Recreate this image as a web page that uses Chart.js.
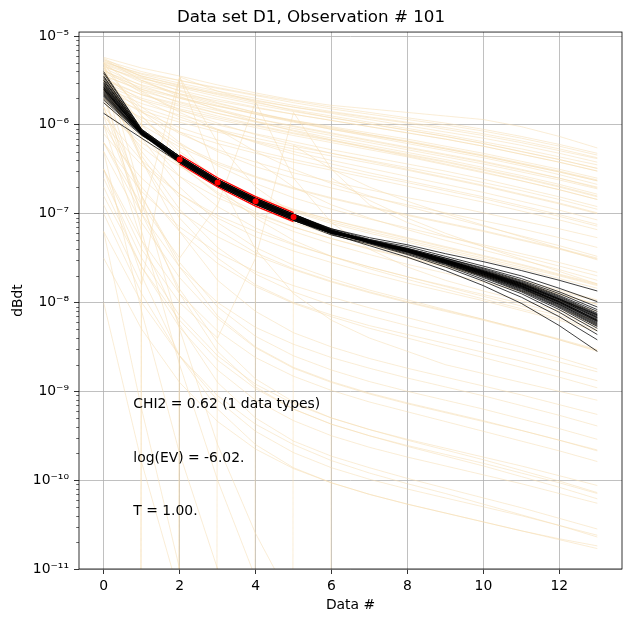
<!DOCTYPE html>
<html>
<head>
<meta charset="utf-8">
<script src="https://cdn.jsdelivr.net/npm/chart.js@4.4.1/dist/chart.umd.min.js"></script>
<style>
  html, body { margin: 0; padding: 0; background: #fff; }
  canvas { display: block; }
</style>
</head>
<body>
<canvas id="chart" width="631" height="623"></canvas>
<script>
// Data set D1, observation 101: prior (wheat) and posterior (black) dBdt curves, log10 values per gate
const xValues = [0, 1, 2, 3, 4, 5, 6, 7, 8, 9, 10, 11, 12, 13];
const xTicks = [0, 2, 4, 6, 8, 10, 12];
const yTicks = [1e-11, 1e-10, 1e-9, 1e-8, 1e-7, 1e-6, 1e-5];
const yTickLabels = ['10⁻¹¹', '10⁻¹⁰', '10⁻⁹', '10⁻⁸', '10⁻⁷', '10⁻⁶', '10⁻⁵'];

// observed data (gates 2-5) and its error band
const dataX = [2, 3, 4, 5];
const dataValues = [4.09e-7, 2.25e-7, 1.38e-7, 9.16e-8];
const dataUpper = [4.61e-7, 2.54e-7, 1.56e-7, 1.03e-7];
const dataLower = [3.63e-7, 2.0e-7, 1.22e-7, 8.13e-8];

// prior realisations, log10(dBdt). -300 stands for a non-positive value (clipped far below the axis)
const priorUpper = [
  [-5.24, -5.36, -5.45, -5.55, -5.64, -5.72, -5.78, -5.82, -5.86, -5.9, -5.94, -6.02, -6.13, -6.26],
  [-5.3, -5.42, -5.5, -5.58, -5.66, -5.73, -5.8, -5.86, -5.92, -5.98, -6.05, -6.13, -6.22, -6.32],
  [-5.27, -5.4, -5.5, -5.59, -5.67, -5.75, -5.82, -5.88, -5.94, -6.0, -6.07, -6.15, -6.24, -6.34],
  [-5.29, -5.43, -5.53, -5.62, -5.7, -5.78, -5.85, -5.91, -5.97, -6.03, -6.1, -6.18, -6.27, -6.37],
  [-5.35, -5.48, -5.57, -5.65, -5.73, -5.8, -5.86, -5.92, -5.98, -6.05, -6.12, -6.2, -6.29, -6.38],
  [-5.31, -5.45, -5.55, -5.64, -5.72, -5.8, -5.87, -5.94, -6.01, -6.08, -6.15, -6.23, -6.32, -6.42],
  [-5.28, -5.45, -5.56, -5.66, -5.75, -5.83, -5.9, -5.97, -6.04, -6.11, -6.19, -6.27, -6.36, -6.45],
  [-5.32, -5.47, -5.58, -5.68, -5.77, -5.85, -5.92, -5.99, -6.06, -6.13, -6.21, -6.3, -6.39, -6.49],
  [-5.4, -5.55, -5.65, -5.73, -5.81, -5.88, -5.95, -6.02, -6.09, -6.16, -6.24, -6.33, -6.42, -6.52],
  [-5.34, -5.5, -5.61, -5.71, -5.8, -5.88, -5.95, -6.02, -6.09, -6.16, -6.24, -6.33, -6.42, -6.52],
  [-5.45, -5.6, -5.7, -5.79, -5.87, -5.95, -6.02, -6.09, -6.16, -6.24, -6.32, -6.41, -6.5, -6.6],
  [-5.42, -5.58, -5.69, -5.79, -5.88, -5.96, -6.04, -6.11, -6.18, -6.26, -6.34, -6.43, -6.52, -6.62],
  [-5.33, -5.52, -5.65, -5.76, -5.86, -5.95, -6.03, -6.11, -6.19, -6.27, -6.35, -6.44, -6.53, -6.63],
  [-5.25, -5.46, -5.62, -5.75, -5.86, -5.96, -6.05, -6.13, -6.21, -6.29, -6.37, -6.46, -6.56, -6.67],
  [-5.36, -5.56, -5.7, -5.82, -5.93, -6.02, -6.1, -6.18, -6.26, -6.34, -6.42, -6.51, -6.6, -6.7],
  [-5.44, -5.62, -5.74, -5.84, -5.93, -6.01, -6.09, -6.17, -6.25, -6.33, -6.41, -6.5, -6.6, -6.71],
  [-5.5, -5.66, -5.77, -5.87, -5.96, -6.04, -6.12, -6.2, -6.28, -6.36, -6.44, -6.53, -6.62, -6.72],
  [-5.38, -5.6, -5.75, -5.87, -5.97, -6.06, -6.15, -6.23, -6.31, -6.39, -6.48, -6.57, -6.67, -6.78],
  [-5.48, -5.66, -5.79, -5.9, -6.0, -6.09, -6.17, -6.25, -6.33, -6.41, -6.5, -6.59, -6.69, -6.8],
  [-5.52, -5.7, -5.82, -5.92, -6.01, -6.1, -6.18, -6.26, -6.34, -6.42, -6.51, -6.6, -6.7, -6.81],
  [-5.55, -5.72, -5.84, -5.94, -6.03, -6.12, -6.2, -6.28, -6.36, -6.45, -6.54, -6.63, -6.73, -6.84],
  [-5.26, -5.5, -5.68, -5.83, -5.96, -6.07, -6.17, -6.26, -6.35, -6.44, -6.53, -6.63, -6.73, -6.84],
  [-5.58, -5.76, -5.89, -6.0, -6.1, -6.19, -6.28, -6.36, -6.44, -6.52, -6.61, -6.71, -6.81, -6.92],
  [-5.6, -5.8, -5.94, -6.05, -6.15, -6.24, -6.32, -6.4, -6.48, -6.56, -6.65, -6.74, -6.84, -6.95],
  [-5.38, -5.64, -5.83, -5.98, -6.11, -6.22, -6.32, -6.41, -6.5, -6.59, -6.68, -6.78, -6.88, -6.99],
  [-5.66, -5.84, -5.97, -6.08, -6.18, -6.27, -6.35, -6.43, -6.51, -6.6, -6.69, -6.79, -6.89, -7.0],
  [-5.47, -5.72, -5.91, -6.06, -6.19, -6.3, -6.4, -6.49, -6.58, -6.67, -6.76, -6.86, -6.96, -7.07],
  [-5.3, -5.62, -5.86, -6.05, -6.2, -6.33, -6.44, -6.54, -6.63, -6.72, -6.81, -6.91, -7.01, -7.12],
  [-5.62, -5.86, -6.03, -6.17, -6.29, -6.39, -6.48, -6.57, -6.65, -6.74, -6.83, -6.93, -7.03, -7.14],
  [-5.7, -5.92, -6.08, -6.21, -6.32, -6.42, -6.51, -6.6, -6.69, -6.78, -6.87, -6.97, -7.07, -7.18]
];
const priorMiddle = [
  [-5.5, -5.85, -6.1, -6.28, -6.42, -6.54, -6.64, -6.73, -6.82, -6.9, -6.99, -7.08, -7.17, -7.27],
  [-5.42, -5.8, -6.08, -6.3, -6.47, -6.6, -6.71, -6.81, -6.9, -6.99, -7.08, -7.17, -7.27, -7.38],
  [-5.58, -5.95, -6.22, -6.42, -6.58, -6.71, -6.82, -6.92, -7.01, -7.1, -7.19, -7.29, -7.39, -7.5],
  [-5.65, -6.0, -6.25, -6.44, -6.59, -6.72, -6.83, -6.93, -7.02, -7.11, -7.2, -7.3, -7.4, -7.51],
  [-5.35, -5.85, -6.2, -6.46, -6.66, -6.82, -6.95, -7.06, -7.16, -7.26, -7.35, -7.45, -7.55, -7.66],
  [-5.85, -6.2, -6.47, -6.67, -6.83, -6.96, -7.07, -7.17, -7.27, -7.37, -7.47, -7.57, -7.68, -7.79],
  [-5.7, -6.1, -6.4, -6.62, -6.8, -6.95, -7.07, -7.18, -7.28, -7.38, -7.48, -7.58, -7.69, -7.8],
  [-5.75, -6.15, -6.44, -6.66, -6.83, -6.97, -7.09, -7.2, -7.3, -7.4, -7.5, -7.6, -7.7, -7.81],
  [-5.3, -5.9, -6.35, -6.68, -6.92, -7.1, -7.24, -7.35, -7.45, -7.55, -7.65, -7.75, -7.86, -7.97],
  [-5.5, -6.05, -6.46, -6.76, -6.98, -7.15, -7.28, -7.39, -7.49, -7.59, -7.69, -7.79, -7.9, -8.02],
  [-5.8, -6.25, -6.58, -6.82, -7.0, -7.15, -7.28, -7.4, -7.5, -7.6, -7.7, -7.8, -7.91, -8.02],
  [-5.4, -6.0, -6.45, -6.78, -7.02, -7.2, -7.34, -7.46, -7.57, -7.67, -7.77, -7.87, -7.98, -8.1],
  [-5.45, -6.1, -6.58, -6.92, -7.16, -7.34, -7.48, -7.6, -7.71, -7.81, -7.91, -8.01, -8.12, -8.24],
  [-6.0, -6.45, -6.78, -7.02, -7.2, -7.35, -7.48, -7.6, -7.71, -7.82, -7.93, -8.04, -8.15, -8.27],
  [-5.9, -6.4, -6.78, -7.05, -7.26, -7.42, -7.55, -7.67, -7.78, -7.88, -7.98, -8.09, -8.2, -8.32],
  [-5.6, -6.3, -6.82, -7.18, -7.44, -7.62, -7.76, -7.88, -7.99, -8.09, -8.19, -8.3, -8.41, -8.53],
  [-6.1, -6.6, -6.98, -7.26, -7.47, -7.63, -7.77, -7.89, -8.0, -8.1, -8.2, -8.31, -8.42, -8.54],
  [-5.4, -6.15, -6.7, -7.1, -7.38, -7.58, -7.73, -7.86, -7.97, -8.08, -8.19, -8.3, -8.42, -8.55],
  [-6.2, -6.75, -7.15, -7.44, -7.65, -7.81, -7.94, -8.06, -8.17, -8.28, -8.39, -8.5, -8.62, -8.75],
  [-5.55, -6.35, -6.95, -7.38, -7.68, -7.88, -8.03, -8.15, -8.26, -8.36, -8.46, -8.56, -8.67, -8.78]
];
const priorLower = [
  [-5.5, -6.4, -7.05, -7.5, -7.8, -8.0, -8.14, -8.26, -8.36, -8.46, -8.56, -8.66, -8.77, -8.88],
  [-6.0, -6.7, -7.2, -7.56, -7.82, -8.01, -8.16, -8.29, -8.4, -8.51, -8.62, -8.73, -8.84, -8.96],
  [-5.35, -6.4, -7.2, -7.75, -8.1, -8.34, -8.5, -8.63, -8.74, -8.84, -8.94, -9.04, -9.15, -9.26],
  [-6.2, -7.0, -7.6, -8.0, -8.28, -8.47, -8.62, -8.74, -8.85, -8.95, -9.05, -9.16, -9.27, -9.39],
  [-5.8, -6.8, -7.55, -8.05, -8.38, -8.6, -8.76, -8.89, -9.0, -9.1, -9.2, -9.31, -9.42, -9.54],
  [-5.7, -6.8, -7.6, -8.15, -8.5, -8.73, -8.89, -9.02, -9.13, -9.23, -9.33, -9.44, -9.55, -9.67],
  [-6.3, -7.1, -7.72, -8.18, -8.51, -8.74, -8.9, -9.03, -9.14, -9.24, -9.34, -9.44, -9.55, -9.66],
  [-6.5, -7.3, -7.9, -8.32, -8.62, -8.83, -8.99, -9.12, -9.23, -9.34, -9.45, -9.56, -9.67, -9.79],
  [-5.9, -7.0, -7.85, -8.45, -8.86, -9.12, -9.3, -9.43, -9.54, -9.64, -9.74, -9.84, -9.95, -10.06],
  [-6.6, -7.5, -8.15, -8.6, -8.92, -9.14, -9.3, -9.43, -9.55, -9.66, -9.77, -9.89, -10.01, -10.14],
  [-5.5, -6.9, -7.9, -8.55, -8.95, -9.2, -9.37, -9.5, -9.61, -9.71, -9.81, -9.92, -10.03, -10.15],
  [-6.8, -7.6, -8.2, -8.65, -8.97, -9.2, -9.37, -9.5, -9.62, -9.73, -9.84, -9.96, -10.08, -10.21],
  [-6.7, -7.6, -8.28, -8.76, -9.1, -9.33, -9.5, -9.63, -9.74, -9.84, -9.94, -10.04, -10.15, -10.26],
  [-6.0, -7.3, -8.25, -8.9, -9.3, -9.56, -9.73, -9.86, -9.98, -10.09, -10.2, -10.31, -10.43, -10.55],
  [-7.0, -7.9, -8.6, -9.1, -9.45, -9.69, -9.86, -9.99, -10.1, -10.2, -10.3, -10.4, -10.51, -10.62],
  [-7.2, -8.0, -8.6, -9.05, -9.37, -9.6, -9.78, -9.92, -10.04, -10.15, -10.27, -10.39, -10.51, -10.64],
  [-6.5, -7.7, -8.6, -9.2, -9.6, -9.86, -10.03, -10.16, -10.27, -10.37, -10.47, -10.57, -10.66, -10.74],
  [-7.5, -8.3, -8.9, -9.34, -9.65, -9.87, -10.03, -10.16, -10.27, -10.37, -10.47, -10.57, -10.67, -10.77],
  [-5.6, -7.2, -8.7, -10.0, -11.1, -11.9, -12.5, -13.0, -13.4, -13.8, -14.1, -14.4, -14.7, -15.0],
  [-6.3, -8.1, -9.7, -11.0, -12.0, -12.7, -13.2, -13.6, -14.0, -14.3, -14.6, -14.9, -15.2, -15.5],
  [-7.2, -9.2, -11.0, -12.4, -13.4, -14.1, -14.6, -15.0, -15.3, -15.6, -15.9, -16.2, -16.5, -16.8],
  [-5.3, -6.8, -8.3, -9.6, -10.6, -11.4, -12.0, -12.5, -12.9, -13.3, -13.6, -13.9, -14.2, -14.5],
  [-8.0, -9.8, -11.3, -12.5, -13.4, -14.0, -14.5, -14.9, -15.2, -15.5, -15.8, -16.1, -16.4, -16.7]
];
const priorClipped = [
  [-300, -5.5, -5.66, -5.78, -5.88, -5.97, -6.05, -6.12, -6.19, -6.27, -6.35, -6.44, -6.53, -6.63],
  [-300, -5.9, -6.3, -6.6, -6.82, -6.98, -7.11, -7.22, -7.32, -7.42, -7.52, -7.62, -7.73, -7.84],
  [-300, -300, -5.46, -5.62, -5.74, -5.84, -5.92, -5.99, -6.06, -6.13, -6.21, -6.3, -6.39, -6.49],
  [-300, -300, -6.2, -6.7, -7.05, -7.3, -7.48, -7.62, -7.74, -7.85, -7.96, -8.07, -8.18, -8.3],
  [-300, -300, -300, -6.05, -6.3, -6.5, -6.66, -6.8, -6.92, -7.03, -7.14, -7.25, -7.36, -7.48],
  [-300, -300, -300, -300, -6.4, -6.7, -6.9, -7.05, -7.18, -7.3, -7.41, -7.52, -7.63, -7.75],
  [-300, -300, -300, -300, -300, -6.23, -6.5, -6.7, -6.86, -7.0, -7.13, -7.26, -7.39, -7.52],
  [-300, -300, -300, -300, -300, -300, -6.6, -6.85, -7.05, -7.22, -7.37, -7.51, -7.65, -7.79]
];
const priorSpikes = [
  [-6.9, -7.8, -5.46, -6.6, -7.4, -7.9, -8.2, -8.4, -8.55, -8.7, -8.8, -8.9, -9.0, -9.1],
  [-5.8, -7.0, -5.46, -6.2, -6.7, -7.0, -7.2, -7.35, -7.47, -7.58, -7.68, -7.78, -7.88, -7.98],
  [-6.2, -6.9, -7.5, -6.9, -5.74, -6.6, -7.1, -7.4, -7.6, -7.75, -7.87, -7.98, -8.09, -8.2],
  [-6.5, -7.4, -8.0, -8.4, -7.5, -5.86, -6.5, -6.9, -7.1, -7.25, -7.37, -7.48, -7.59, -7.7]
];

// posterior realisations, log10(dBdt)
const posteriorCurves = [
  [-5.55, -6.08, -6.37, -6.63, -6.84, -7.02, -7.17, -7.27, -7.35, -7.45, -7.54, -7.64, -7.75, -7.87],
  [-5.7, -6.11, -6.41, -6.67, -6.88, -7.06, -7.2, -7.29, -7.37, -7.48, -7.59, -7.7, -7.84, -7.99],
  [-5.4, -6.05, -6.355, -6.615, -6.825, -7.005, -7.17, -7.29, -7.39, -7.5, -7.61, -7.73, -7.88, -8.05],
  [-5.6, -6.09, -6.39, -6.65, -6.86, -7.04, -7.19, -7.3, -7.39, -7.5, -7.62, -7.75, -7.9, -8.08],
  [-5.65, -6.1, -6.425, -6.685, -6.895, -7.075, -7.22, -7.3, -7.4, -7.51, -7.63, -7.76, -7.92, -8.1],
  [-5.5, -6.07, -6.37, -6.63, -6.84, -7.02, -7.19, -7.3, -7.4, -7.52, -7.64, -7.77, -7.93, -8.12],
  [-5.57, -6.08, -6.39, -6.65, -6.86, -7.04, -7.2, -7.31, -7.4, -7.52, -7.64, -7.78, -7.94, -8.13],
  [-5.62, -6.09, -6.41, -6.67, -6.88, -7.06, -7.21, -7.31, -7.4, -7.52, -7.65, -7.78, -7.95, -8.14],
  [-5.45, -6.06, -6.355, -6.615, -6.825, -7.005, -7.18, -7.31, -7.41, -7.52, -7.65, -7.79, -7.96, -8.15],
  [-5.46, -6.06, -6.38, -6.64, -6.85, -7.03, -7.19, -7.3, -7.4, -7.52, -7.65, -7.79, -7.96, -8.14],
  [-5.87, -6.15, -6.425, -6.685, -6.895, -7.075, -7.22, -7.31, -7.41, -7.53, -7.66, -7.79, -7.96, -8.16],
  [-5.54, -6.08, -6.37, -6.63, -6.84, -7.02, -7.19, -7.31, -7.41, -7.53, -7.66, -7.8, -7.97, -8.17],
  [-5.59, -6.09, -6.38, -6.64, -6.85, -7.03, -7.2, -7.31, -7.41, -7.53, -7.66, -7.8, -7.97, -8.17],
  [-5.68, -6.11, -6.39, -6.65, -6.86, -7.04, -7.2, -7.31, -7.41, -7.53, -7.66, -7.81, -7.98, -8.18],
  [-5.6, -6.09, -6.41, -6.67, -6.88, -7.06, -7.21, -7.31, -7.41, -7.54, -7.67, -7.81, -7.99, -8.19],
  [-5.48, -6.07, -6.355, -6.615, -6.825, -7.005, -7.18, -7.31, -7.42, -7.54, -7.67, -7.82, -7.99, -8.2],
  [-5.53, -6.08, -6.38, -6.64, -6.85, -7.03, -7.2, -7.31, -7.41, -7.53, -7.66, -7.81, -7.99, -8.2],
  [-5.64, -6.1, -6.39, -6.65, -6.86, -7.04, -7.2, -7.32, -7.42, -7.54, -7.68, -7.82, -8.0, -8.21],
  [-5.58, -6.09, -6.39, -6.65, -6.86, -7.04, -7.2, -7.31, -7.42, -7.54, -7.67, -7.82, -8.0, -8.21],
  [-5.58, -6.09, -6.425, -6.685, -6.895, -7.075, -7.22, -7.32, -7.42, -7.54, -7.68, -7.83, -8.01, -8.22],
  [-5.75, -6.12, -6.37, -6.63, -6.84, -7.02, -7.2, -7.32, -7.42, -7.55, -7.68, -7.83, -8.02, -8.23],
  [-5.63, -6.1, -6.4, -6.66, -6.87, -7.05, -7.21, -7.32, -7.42, -7.55, -7.69, -7.84, -8.02, -8.24],
  [-5.52, -6.07, -6.41, -6.67, -6.88, -7.06, -7.22, -7.32, -7.43, -7.55, -7.69, -7.84, -8.03, -8.25],
  [-5.67, -6.1, -6.4, -6.66, -6.87, -7.05, -7.21, -7.32, -7.43, -7.56, -7.7, -7.85, -8.04, -8.26],
  [-5.61, -6.09, -6.39, -6.65, -6.86, -7.04, -7.21, -7.32, -7.43, -7.56, -7.7, -7.86, -8.05, -8.27],
  [-5.42, -6.05, -6.355, -6.615, -6.825, -7.005, -7.19, -7.33, -7.43, -7.56, -7.71, -7.87, -8.06, -8.29],
  [-5.66, -6.1, -6.41, -6.67, -6.88, -7.06, -7.22, -7.33, -7.44, -7.57, -7.72, -7.88, -8.08, -8.32],
  [-5.56, -6.08, -6.37, -6.63, -6.84, -7.02, -7.2, -7.33, -7.45, -7.58, -7.74, -7.9, -8.11, -8.36],
  [-5.72, -6.11, -6.425, -6.685, -6.895, -7.075, -7.24, -7.34, -7.46, -7.6, -7.76, -7.94, -8.16, -8.42],
  [-5.5, -6.07, -6.39, -6.65, -6.86, -7.04, -7.23, -7.36, -7.49, -7.64, -7.81, -8.01, -8.26, -8.55]
];

const annotations = ['CHI2 = 0.62 (1 data types)', 'log(EV) = -6.02.', 'T = 1.00.'];
const annotationY = [0.3, 0.2, 0.1];

const FONT = "'DejaVu Sans', sans-serif";

function toPoints(logCurve) {
    return xValues.map((x, i) => ({ x: x, y: Math.pow(10, logCurve[i]) }));
}

function curveDataset(logCurve, color, width, order) {
    return {
        data: toPoints(logCurve),
        borderColor: color,
        borderWidth: width,
        pointRadius: 0,
        tension: 0,
        fill: false,
        order: order
    };
}

const datasets = [];

// observed data on top
datasets.push({
    data: dataX.map((x, i) => ({ x: x, y: dataValues[i] })),
    showLine: false,
    pointRadius: 3,
    pointBackgroundColor: '#ff0000',
    pointBorderWidth: 0,
    order: 0
});
datasets.push({
    data: dataX.map((x, i) => ({ x: x, y: dataUpper[i] })),
    borderColor: '#ff0000', borderWidth: 1.3, pointRadius: 0, order: 0
});
datasets.push({
    data: dataX.map((x, i) => ({ x: x, y: dataLower[i] })),
    borderColor: '#ff0000', borderWidth: 1.3, pointRadius: 0, order: 0
});

posteriorCurves.forEach(c => datasets.push(curveDataset(c, 'rgba(0, 0, 0, 0.75)', 1.0, 1)));

const wheat = 'rgba(245, 222, 179, 0.6)';
[priorUpper, priorMiddle, priorLower, priorClipped, priorSpikes].forEach(group => {
    group.forEach(c => datasets.push(curveDataset(c, wheat, 0.9, 2)));
});

// minor log ticks, full frame and the text block
const axesExtras = {
    id: 'axesExtras',
    afterDatasetsDraw(chart) {
        const ctx = chart.ctx;
        const area = chart.chartArea;
        const yScale = chart.scales.y;

        ctx.save();
        ctx.strokeStyle = '#000';
        ctx.lineWidth = 0.6;
        for (let e = -11; e <= -5; e++) {
            for (let m = 2; m <= 9; m++) {
                const v = m * Math.pow(10, e);
                if (v > yScale.max) continue;
                const py = Math.round(yScale.getPixelForValue(v)) + 0.5;
                ctx.beginPath();
                ctx.moveTo(area.left, py);
                ctx.lineTo(area.left - 2.8, py);
                ctx.stroke();
            }
        }

        ctx.lineWidth = 0.8;
        ctx.strokeRect(area.left, area.top, area.right - area.left, area.bottom - area.top);

        ctx.fillStyle = '#000';
        ctx.font = '13.9px ' + FONT;
        ctx.textAlign = 'left';
        ctx.textBaseline = 'alphabetic';
        const w = area.right - area.left;
        const h = area.bottom - area.top;
        annotations.forEach((t, i) => {
            ctx.fillText(t, area.left + 0.1 * w, area.bottom - annotationY[i] * h);
        });
        ctx.restore();
    }
};

const ctx = document.getElementById('chart');
new Chart(ctx, {
    type: 'line',
    data: { datasets: datasets },
    plugins: [axesExtras],
    options: {
        responsive: false,
        animation: false,
        parsing: false,
        normalized: true,
        layout: { padding: { left: 0, right: 9, top: 0, bottom: 0 } },
        plugins: {
            legend: { display: false },
            tooltip: { enabled: false },
            title: {
                display: true,
                text: 'Data set D1, Observation # 101',
                color: '#000',
                font: { family: FONT, size: 16.7, weight: 'normal' },
                padding: { top: 7.5, bottom: 4.5 }
            }
        },
        scales: {
            x: {
                type: 'linear',
                min: -0.65,
                max: 13.65,
                afterBuildTicks: scale => {
                    scale.ticks = xTicks.map(v => ({ value: v }));
                },
                afterFit: scale => { scale.height = 54; },
                ticks: {
                    color: '#000',
                    font: { family: FONT, size: 13.9 },
                    padding: 4,
                    maxRotation: 0,
                    callback: v => String(v)
                },
                grid: {
                    color: '#b0b0b0',
                    lineWidth: 0.8,
                    drawTicks: true,
                    tickLength: 5,
                    tickColor: '#000',
                    tickWidth: 0.8
                },
                border: { display: false },
                title: {
                    display: true,
                    text: 'Data #',
                    color: '#000',
                    font: { family: FONT, size: 13.9 },
                    padding: { top: 0, bottom: 9 }
                }
            },
            y: {
                type: 'logarithmic',
                min: 1e-11,
                max: 1.11e-5,
                afterBuildTicks: scale => {
                    scale.ticks = yTicks.map(v => ({ value: v }));
                },
                afterFit: scale => { scale.width = 79; },
                ticks: {
                    color: '#000',
                    font: { family: FONT, size: 13.9 },
                    padding: 5,
                    callback: (v, i) => yTickLabels[i]
                },
                grid: {
                    color: '#b0b0b0',
                    lineWidth: 0.8,
                    drawTicks: true,
                    tickLength: 5,
                    tickColor: '#000',
                    tickWidth: 0.8
                },
                border: { display: false },
                title: {
                    display: true,
                    text: 'dBdt',
                    color: '#000',
                    font: { family: FONT, size: 13.9 },
                    padding: { top: 10, bottom: 0 }
                }
            }
        }
    }
});
</script>
</body>
</html>
